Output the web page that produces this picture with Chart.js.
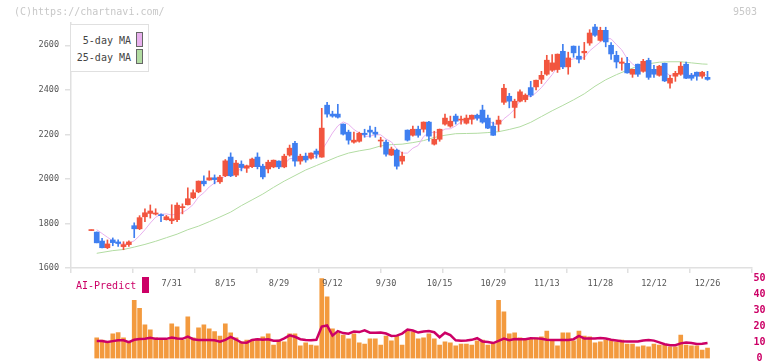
<!DOCTYPE html>
<html>
<head>
<meta charset="utf-8">
<script src="https://cdn.jsdelivr.net/npm/chart.js@4.4.1/dist/chart.umd.min.js"></script>
<style>
  html, body { margin: 0; padding: 0; background: #fff; }
  #wrap { position: relative; width: 772px; height: 361px; overflow: hidden; font-family: "DejaVu Sans Mono", monospace; }
  #priceCanvas { position: absolute; left: 0; top: 0; z-index: 2; }
  #volCanvas { position: absolute; left: 0; top: 270px; z-index: 1; }
  .wm { position: absolute; top: 6px; font-size: 10px; line-height: 12px; color: #c8c8c8; z-index: 4; }
  #legend { position: absolute; left: 70px; top: 24px; width: 77px; height: 46px; border: 1px solid #e0e0e0; background: #fff; z-index: 3; }
  .lgText { position: absolute; right: 17px; font-size: 10px; line-height: 12px; color: #444; white-space: nowrap; }
  .lgBox { position: absolute; left: 65px; width: 5px; height: 13px; border: 1px solid #666; }
  #aiText { position: absolute; left: 76px; top: 280px; font-size: 10px; line-height: 12px; color: #cc0066; z-index: 3; }
  #aiBox { position: absolute; left: 142px; top: 277px; width: 7px; height: 16px; background: #cc0066; z-index: 3; }
</style>
</head>
<body>
<div id="wrap">
  <div class="wm" style="left:14px">(C)https://chartnavi.com/</div>
  <div class="wm" style="right:15px">9503</div>
  <div id="legend">
    <div class="lgText" style="top:10px">5-day MA</div>
    <div class="lgBox" style="top:7px;background:#e8b0ee"></div>
    <div class="lgText" style="top:27px">25-day MA</div>
    <div class="lgBox" style="top:24px;background:#b2dca2"></div>
  </div>
  <div id="aiText">AI-Predict</div>
  <div id="aiBox"></div>
  <canvas id="priceCanvas" width="772" height="290"></canvas>
  <canvas id="volCanvas" width="772" height="100"></canvas>
</div>

<script>
// ---- data (one entry per trading day) ----
const opens = [1768,1761,1721,1691,1726,1717,1696,1705,1790,1776,
  1830,1845,1842,1839,1817,1812,1817,1871,1884,1915,
  1942,1990,1995,2005,1987,2014,2098,2017,2066,2048,
  2055,2098,2057,2045,2054,2080,2054,2107,2160,2080,
  2102,2093,2125,2098,2331,2291,2291,2246,2210,2165,
  2169,2205,2219,2210,2170,2165,2107,2129,2080,2219,
  2196,2223,2223,2255,2156,2178,2246,2237,2282,2264,
  2250,2268,2286,2309,2273,2237,2246,2344,2371,2321,
  2349,2356,2410,2413,2447,2470,2488,2491,2573,2503,
  2596,2551,2566,2610,2682,2622,2667,2600,2555,2519,
  2519,2470,2515,2483,2532,2492,2465,2519,2430,2461,
  2470,2515,2465,2479,2461,2456];
const highs = [1771,1762,1733,1726,1735,1727,1718,1722,1803,1835,
  1866,1883,1866,1843,1836,1884,1893,1888,1960,1951,
  1991,2014,2036,2018,2016,2087,2117,2083,2081,2062,
  2094,2117,2066,2084,2085,2081,2111,2152,2169,2111,
  2116,2117,2134,2317,2344,2304,2335,2247,2219,2210,
  2210,2223,2237,2232,2187,2174,2143,2134,2120,2220,
  2237,2237,2256,2259,2214,2224,2291,2282,2291,2282,
  2287,2287,2291,2331,2287,2255,2282,2425,2384,2358,
  2400,2382,2438,2444,2483,2555,2558,2561,2604,2569,
  2597,2596,2613,2670,2694,2681,2681,2612,2573,2543,
  2546,2493,2516,2537,2542,2510,2510,2520,2465,2483,
  2524,2524,2474,2480,2483,2483];
const lows = [1768,1713,1690,1687,1700,1697,1682,1697,1736,1772,
  1808,1824,1838,1808,1815,1799,1808,1843,1883,1911,
  1938,1969,1994,1978,1980,2010,2010,2010,2036,2029,
  2050,2045,2000,2027,2050,2046,2050,2102,2057,2066,
  2075,2089,2093,2097,2277,2277,2273,2197,2156,2160,
  2165,2187,2187,2187,2143,2102,2105,2044,2066,2170,
  2192,2187,2210,2169,2152,2169,2241,2232,2246,2246,
  2246,2246,2264,2250,2226,2195,2214,2335,2319,2274,
  2346,2346,2369,2400,2428,2465,2483,2478,2495,2470,
  2546,2521,2536,2600,2640,2618,2593,2537,2498,2488,
  2475,2456,2460,2479,2447,2456,2461,2437,2407,2438,
  2465,2450,2443,2443,2452,2443];
const closes = [1770,1713,1691,1708,1714,1710,1705,1717,1776,1826,
  1848,1856,1847,1835,1830,1821,1882,1875,1911,1938,
  1990,1978,2005,1997,2008,2081,2014,2071,2051,2059,
  2089,2055,2009,2075,2084,2054,2102,2138,2080,2102,
  2085,2116,2111,2228,2291,2282,2277,2201,2174,2174,
  2205,2199,2210,2201,2174,2111,2134,2057,2102,2174,
  2223,2196,2255,2192,2178,2223,2273,2259,2259,2268,
  2273,2286,2273,2255,2228,2196,2264,2407,2349,2349,
  2391,2376,2376,2443,2465,2533,2521,2560,2503,2543,
  2566,2537,2573,2655,2645,2667,2615,2561,2525,2525,
  2476,2492,2470,2528,2456,2470,2506,2440,2452,2474,
  2506,2452,2452,2461,2479,2447];

// 5-day moving average (pink line)
const ma5 = [null,1772,1755,1738,1722,1709,1707,1711,1722,1745,
  1772,1802,1828,1841,1843,1838,1843,1849,1864,1885,
  1919,1938,1964,1982,1996,2014,2021,2034,2045,2055,
  2057,2065,2053,2057,2062,2055,2065,2091,2092,2095,
  2101,2104,2099,2128,2166,2206,2238,2256,2245,2222,
  2206,2191,2192,2198,2198,2179,2166,2135,2116,2116,
  2138,2150,2190,2208,2209,2209,2224,2225,2238,2256,
  2266,2269,2272,2271,2263,2248,2243,2270,2289,2313,
  2352,2374,2368,2387,2410,2439,2468,2504,2516,2532,
  2539,2542,2544,2575,2595,2615,2631,2629,2603,2579,
  2540,2516,2498,2498,2484,2483,2486,2480,2465,2468,
  2476,2465,2467,2469,2476,2463];

// 25-day moving average (green line), read at these day positions
const ma25Idx = [1,4,6,8,10,12,14,16,18,20,22,24,26,28,30,32,34,36,38,40,
  42,44,46,48,50,52,54,56,58,60,62,64,66,68,70,72,74,76,78,80,
  82,84,86,88,90,92,94,96,98,100,102,104,106,108,110,112,114,115];
const ma25Val = [1666,1678,1683,1694,1706,1720,1736,1752,1772,1788,1808,1829,1851,1880,1906,1932,1962,1990,2015,2040,
  2060,2080,2100,2116,2126,2134,2148,2154,2156,2163,2172,2186,2196,2203,2204,2205,2208,2212,2222,2234,
  2254,2280,2306,2330,2355,2382,2416,2445,2468,2488,2507,2517,2524,2526,2526,2521,2516,2515];

// lower panel: volume bars and the AI-Predict line
const volumes = [null,12.8,11.5,10.5,15.3,16.1,12.8,10.3,36.1,31.1,
  20.9,17.8,12.8,11.5,11.5,21.5,19.6,11.5,25.9,12.8,
  19.0,20.9,18.4,16.7,14.0,21.5,15.9,12.8,10.3,11.5,
  11.5,12.2,13.4,15.3,8.4,11.5,10.3,15.3,15.3,7.8,
  9.7,8.4,7.8,49.6,38.3,18.4,15.9,14.6,12.2,15.3,
  9.7,9.0,12.2,12.2,8.4,14.0,10.9,14.0,8.4,17.1,
  16.5,12.2,12.8,15.3,12.2,8.4,10.3,9.7,7.8,9.0,
  9.0,8.4,10.9,11.5,8.4,9.7,36.1,29.0,15.3,15.9,
  12.8,11.5,12.2,12.8,13.4,17.1,11.5,7.8,15.9,15.9,
  10.9,17.1,14.0,13.4,9.7,10.3,11.5,10.9,10.3,11.5,
  9.0,9.0,7.2,7.8,7.2,9.0,8.4,8.4,7.2,7.2,
  14.6,8.4,7.8,7.8,5.3,6.5];
const aiPredict = [null,10.9,10.8,10.2,10.8,11.4,11.3,10.1,11.6,12.1,
  12.3,12.9,12.2,12.2,12.2,13.0,12.4,12.2,13.6,12.0,
  11.5,11.5,11.5,11.3,10.5,11.6,13.4,11.8,9.9,9.8,
  11.5,11.9,11.6,12.0,11.0,11.0,12.5,14.4,13.5,12.0,
  11.5,11.3,11.6,19.8,20.5,14.2,17.0,15.8,15.4,16.8,
  16.4,17.5,16.0,16.0,16.2,15.5,14.0,14.2,15.5,18.0,
  17.4,16.1,16.7,17.0,16.3,13.2,16.0,14.5,11.3,11.0,
  11.2,11.6,12.6,10.6,10.2,9.6,10.9,12.4,11.4,12.1,
  12.0,12.0,12.6,12.5,12.3,11.7,11.5,11.5,11.5,11.5,
  12.0,14.0,12.4,12.4,12.4,12.8,12.4,11.6,11.2,10.7,
  10.5,10.5,10.6,11.2,11.5,11.1,10.0,8.9,8.2,8.3,
  9.4,10.0,9.6,9.0,9.2,9.6];

// tick labels
const dateTickIdx = [15,25,35,45,55,65,75,85,95,105,115];
const dateTickLabels = ['7/31','8/15','8/29','9/12','9/30','10/15','10/29','11/13','11/28','12/12','12/26'];
const priceTicks = [1600,1800,2000,2200,2400,2600];
const volTicks = [0,10,20,30,40,50];

// ---- shared settings ----
const X_MIN = -3.8, X_MAX = 123.3;
const UP = '#f2553f', DOWN = '#3f7ff0';
const AXIS = '#e0e0e0';
const FONT = '"DejaVu Sans Mono", monospace';

const candleColors = opens.map((o, i) => closes[i] >= o ? UP : DOWN);
const idx = opens.map((o, i) => i);

// 12 evenly spaced tick marks along the bottom axis of the price panel
function gridTicks() {
    let t = [];
    for (let k = 0; k <= 11; k++) t.push({ value: X_MIN + k * (X_MAX - X_MIN) / 11 });
    return t;
}

// ---- price panel ----
new Chart(document.getElementById('priceCanvas').getContext('2d'), {
    type: 'bar',
    data: {
        datasets: [
            {
                label: 'body',
                data: idx.map(i => ({ x: i, y: [opens[i], closes[i]] })),
                backgroundColor: candleColors,
                barThickness: 5,
                minBarLength: 1,
                grouped: false,
                order: 2
            },
            {
                label: 'wick',
                data: idx.map(i => ({ x: i, y: [lows[i], highs[i]] })),
                backgroundColor: candleColors,
                barThickness: 1,
                grouped: false,
                order: 3
            },
            {
                type: 'line',
                label: '5-day MA',
                data: idx.filter(i => ma5[i] !== null).map(i => ({ x: i, y: ma5[i] })),
                borderColor: '#e8b0ee',
                borderWidth: 1,
                pointRadius: 0,
                order: 4
            },
            {
                type: 'line',
                label: '25-day MA',
                data: ma25Idx.map((d, k) => ({ x: d, y: ma25Val[k] })),
                borderColor: '#b2dca2',
                borderWidth: 1,
                pointRadius: 0,
                order: 5
            }
        ]
    },
    options: {
        responsive: false,
        animation: false,
        devicePixelRatio: 1,
        layout: { padding: { top: 23, right: 20, left: 0, bottom: 0 } },
        plugins: { legend: { display: false }, tooltip: { enabled: false } },
        scales: {
            x: {
                type: 'linear', position: 'bottom', min: X_MIN, max: X_MAX,
                offset: false, weight: 0,
                afterBuildTicks: s => { s.ticks = gridTicks(); },
                afterFit: s => { s.height = 7; },
                grid: { offset: false, drawOnChartArea: false, drawTicks: true, tickLength: 5, color: AXIS, lineWidth: 1.5 },
                border: { display: true, color: AXIS, width: 1.5 },
                ticks: { display: false }
            },
            xl: {
                type: 'linear', position: 'bottom', min: X_MIN, max: X_MAX,
                offset: false, weight: 1,
                afterBuildTicks: s => { s.ticks = dateTickIdx.map(v => ({ value: v })); },
                afterFit: s => { s.height = 15; },
                grid: { display: false, drawTicks: false },
                border: { display: false },
                ticks: {
                    autoSkip: false, maxRotation: 0, padding: 4,
                    font: { family: FONT, size: 8.5 }, color: '#555',
                    callback: (v, k) => dateTickLabels[k]
                }
            },
            y: {
                position: 'left', min: 1600, max: 2700,
                afterBuildTicks: s => { s.ticks = priceTicks.map(v => ({ value: v })); },
                afterFit: s => { s.width = 71; },
                grid: { drawOnChartArea: false, tickLength: 6, color: AXIS, lineWidth: 1.5 },
                border: { color: AXIS, width: 1.5 },
                ticks: {
                    font: { family: FONT, size: 8.5 }, color: '#555', padding: 6,
                    callback: v => String(v)
                }
            }
        }
    }
});

// ---- volume / AI-Predict panel ----
new Chart(document.getElementById('volCanvas').getContext('2d'), {
    type: 'bar',
    data: {
        datasets: [
            {
                type: 'line',
                label: 'AI-Predict',
                data: idx.filter(i => aiPredict[i] !== null).map(i => ({ x: i, y: aiPredict[i] })),
                borderColor: '#cc0066',
                borderWidth: 2.5,
                pointRadius: 0,
                yAxisID: 'yv',
                order: 1
            },
            {
                label: 'volume',
                data: idx.filter(i => volumes[i] !== null).map(i => ({ x: i, y: volumes[i] })),
                backgroundColor: '#f39a3e',
                barThickness: 4,
                yAxisID: 'yv',
                order: 2
            }
        ]
    },
    options: {
        responsive: false,
        animation: false,
        devicePixelRatio: 1,
        layout: { padding: { top: 8, right: 0, left: 71, bottom: 11.5 } },
        plugins: { legend: { display: false }, tooltip: { enabled: false } },
        scales: {
            x: { type: 'linear', min: X_MIN, max: X_MAX, offset: false, display: false },
            yv: {
                position: 'right', min: 0, max: 50,
                afterBuildTicks: s => { s.ticks = volTicks.map(v => ({ value: v })); },
                afterFit: s => { s.width = 20; },
                grid: { display: false, drawTicks: false },
                border: { display: false },
                ticks: { crossAlign: 'center', padding: 1.5, font: { family: FONT, size: 10, weight: 'bold' }, color: '#cc0066' }
            }
        }
    }
});
</script>
</body>
</html>
